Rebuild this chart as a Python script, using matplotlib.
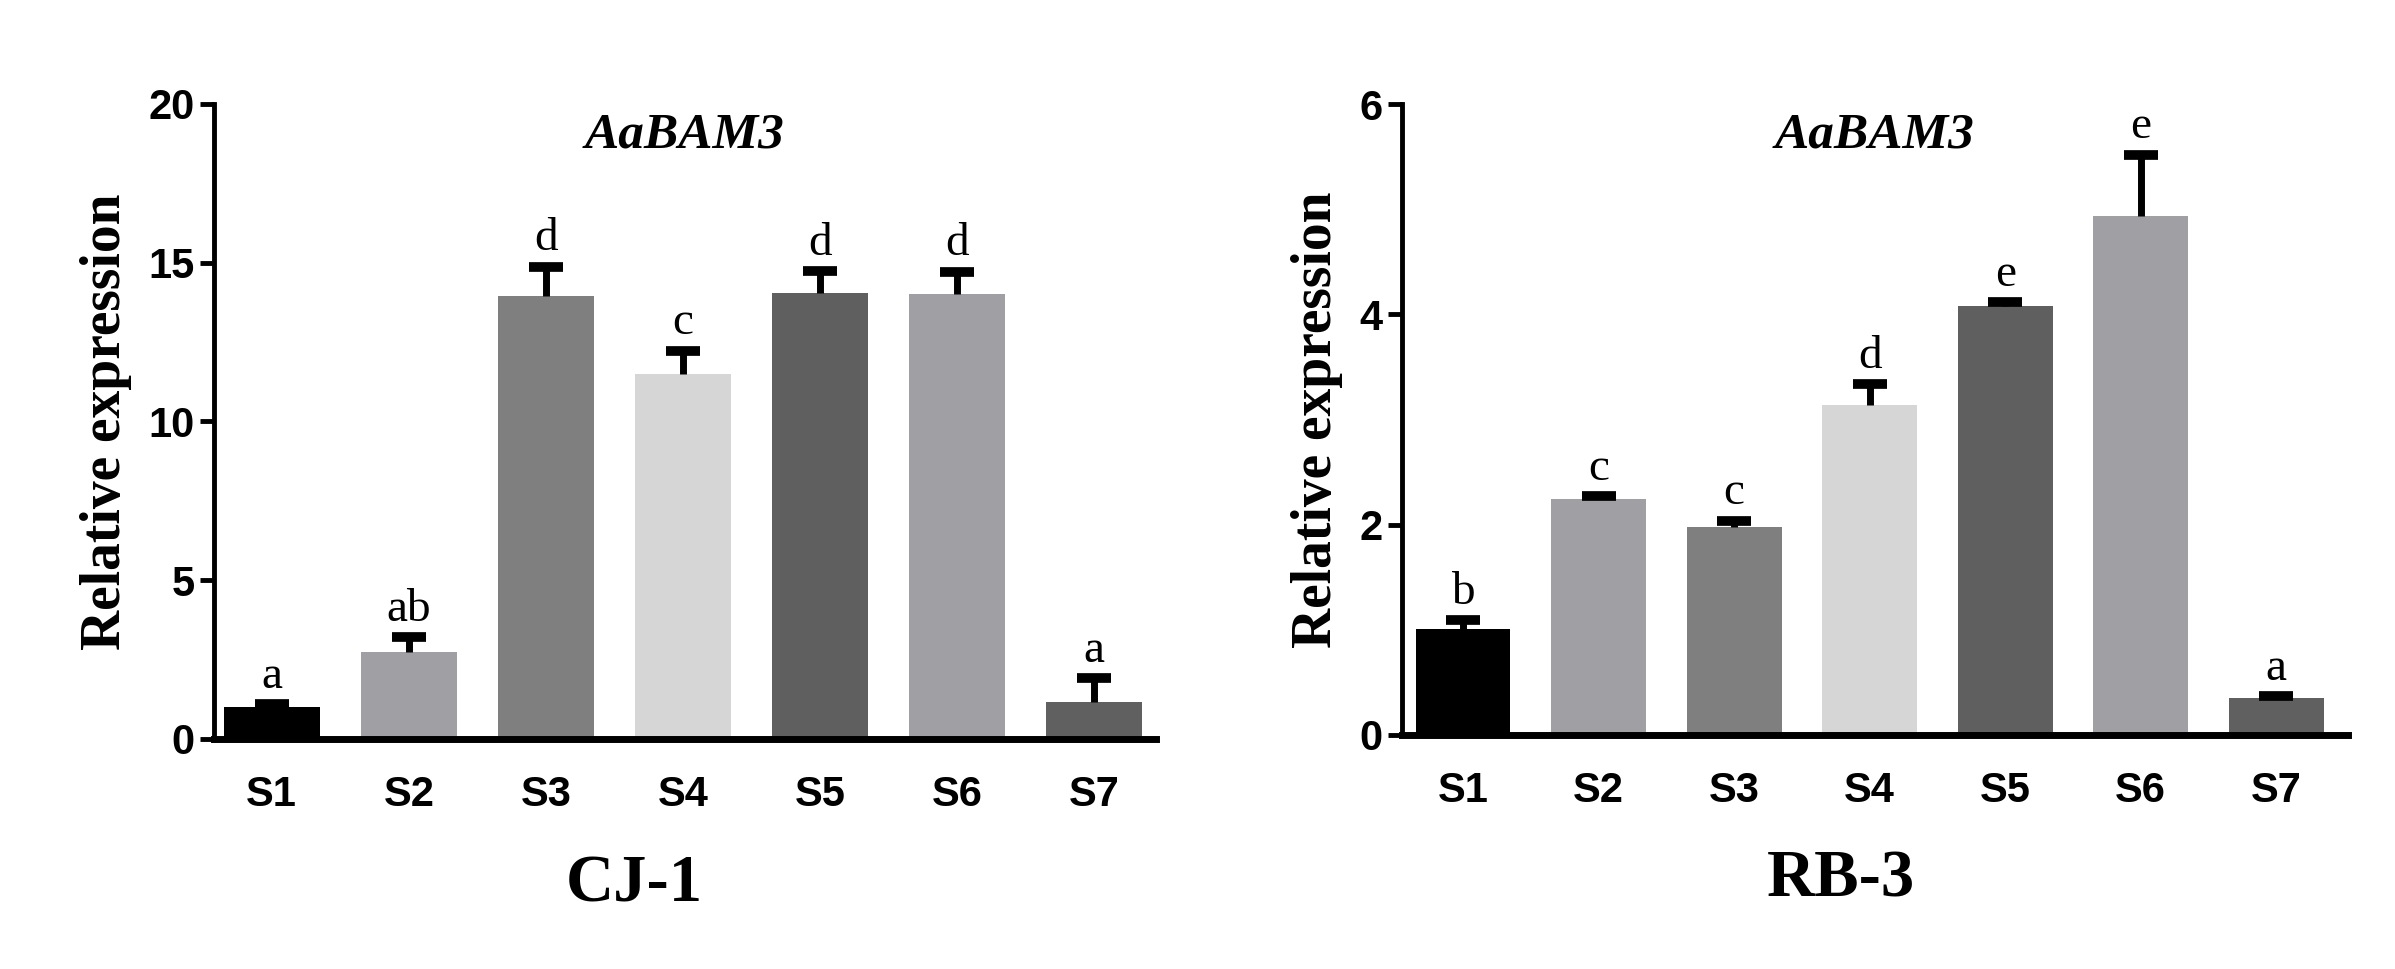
import numpy as np
import matplotlib
matplotlib.use("Agg")
import matplotlib.pyplot as plt

samples = ["S1", "S2", "S3", "S4", "S5", "S6", "S7"]
bar_colors = ["#000000", "#a09fa4", "#7f7f7f", "#d6d6d6", "#5f5f5f", "#a09fa4", "#606060"]

# CJ-1
cj_mean = [1.02, 2.73, 13.95, 11.48, 14.05, 14.02, 1.17]
cj_err = [0.08, 0.48, 0.92, 0.75, 0.68, 0.70, 0.74]
cj_sig = ["a", "ab", "d", "c", "d", "d", "a"]

# RB-3
rb_mean = [1.01, 2.24, 1.98, 3.14, 4.08, 4.94, 0.35]
rb_err = [0.08, 0.03, 0.06, 0.20, 0.04, 0.58, 0.02]
rb_sig = ["b", "c", "c", "d", "e", "e", "a"]

serif = ["Liberation Serif", "DejaVu Serif"]
sans = ["Liberation Sans", "DejaVu Sans"]

fig = plt.figure(figsize=(23.95, 9.69), dpi=100)


def panel(rect, means, errs, sigs, ymax, yticks, xlim, name, name_x, off):
    ax = fig.add_axes(rect)
    x = np.arange(len(samples))
    means = np.asarray(means)
    tops = means + np.asarray(errs)
    ax.bar(x, means, width=0.7, color=bar_colors, zorder=2)
    # upper-only error bars
    ax.vlines(x, means, tops, color="black", lw=5, zorder=3)
    ax.plot(x, tops, ls="none", marker="_", markersize=24, mew=7,
            color="black", zorder=3)
    for xi, t, s in zip(x, tops, sigs):
        ax.text(xi, t + off, s, ha="center", va="bottom",
                fontsize=34, family=serif)
    ax.set_xlim(*xlim)
    ax.set_ylim(0, ymax)
    ax.set_yticks(yticks)
    ax.set_xticks(x)
    ax.set_xticklabels(samples, family=sans, fontweight="bold", fontsize=30)
    for lab in ax.get_yticklabels():
        lab.set_family(sans)
        lab.set_fontweight("bold")
        lab.set_fontsize(30)
    ax.tick_params(axis="x", length=0, pad=26)
    ax.tick_params(axis="y", length=10, width=3.5, direction="out", pad=4)
    ax.spines["top"].set_visible(False)
    ax.spines["right"].set_visible(False)
    ax.spines["left"].set_linewidth(3.5)
    ax.spines["bottom"].set_linewidth(5)
    ax.set_ylabel("Relative expression", family=serif, fontweight="bold",
                  fontsize=40, labelpad=12)
    ax.text(0.5, 0.95, "AaBAM3", transform=ax.transAxes, ha="center",
            va="center", family=serif, fontweight="bold", style="italic",
            fontsize=37)
    ax.text(name_x, -0.23, name, transform=ax.transAxes, ha="center",
            va="center", family=serif, fontweight="bold", fontsize=48)
    return ax


panel([0.0894, 0.2374, 0.3933, 0.6553], cj_mean, cj_err, cj_sig, 20,
      [0, 5, 10, 15, 20], (-0.42, 6.45), "CJ-1", 0.446, 0.2)
panel([0.5854, 0.2415, 0.395, 0.651], rb_mean, rb_err, rb_sig, 6,
      [0, 2, 4, 6], (-0.45, 6.53), "RB-3", 0.464, 0.06)

fig.savefig("out.png", dpi=100)
